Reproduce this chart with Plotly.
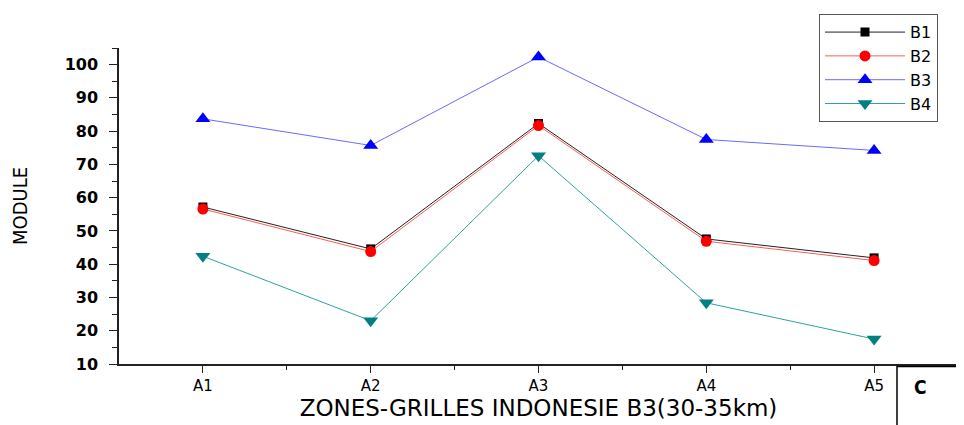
import plotly.graph_objects as go

categories = ["A1", "A2", "A3", "A4", "A5"]
series_names = ["B1", "B2", "B3", "B4"]
b1 = [57.2, 44.6, 82.3, 47.6, 41.9]
b2 = [56.6, 43.8, 81.7, 46.9, 41.1]
b3 = [83.7, 75.7, 102.3, 77.5, 74.2]
b4 = [42.4, 23.0, 72.6, 28.4, 17.5]
y_ticks = [10, 20, 30, 40, 50, 60, 70, 80, 90, 100]

values = [b1, b2, b3, b4]
marker_colors = ["#000000", "#ff0000", "#0000ff", "#008080"]
line_colors = ["#222222", "#ff5a5a", "#6a6aff", "#30a0a0"]
symbols = ["square", "circle", "triangle-up", "triangle-down"]
msizes = [9, 11, 13, 13]

xpos = list(range(1, len(categories) + 1))

fig = go.Figure()
for name, vals, mc, lc, sym, ms in zip(series_names, values, marker_colors, line_colors, symbols, msizes):
    fig.add_trace(go.Scatter(
        x=xpos, y=vals, name=name, mode="lines+markers",
        line=dict(color=lc, width=1),
        marker=dict(symbol=sym, size=ms, color=mc),
    ))

# page body has an 8px margin: figure placed at (8,8) in the window
fig.update_layout(
    width=956, height=417,
    margin=dict(l=111, r=6, t=38, b=61),
    paper_bgcolor="white", plot_bgcolor="white",
    font=dict(family="DejaVu Sans, Arial, sans-serif", color="#000000"),
    showlegend=True,
    legend=dict(
        x=(938 - 119) / 839, y=1.107, xanchor="right", yanchor="top",
        bordercolor="#555555", borderwidth=1, bgcolor="white",
        font=dict(size=16, family="DejaVu Sans, Arial, sans-serif"),
        itemwidth=80, tracegroupgap=0,
    ),
)

fig.update_xaxes(
    range=[0.5, 5.5], tickmode="array", tickvals=xpos, ticktext=categories,
    showgrid=False, zeroline=False, showline=True, linecolor="#222222", linewidth=1.5,
    ticks="outside", ticklen=7, tickwidth=1.2, tickcolor="#222222",
    tickfont=dict(size=15, family="DejaVu Sans, Arial, sans-serif"),
    minor=dict(tickmode="array", tickvals=[1.5, 2.5, 3.5, 4.5], ticks="outside", ticklen=4, tickcolor="#222222", tickwidth=1.2),
    title=dict(text="ZONES-GRILLES INDONESIE B3(30-35km)", font=dict(size=23, family="DejaVu Sans, Arial, sans-serif"), standoff=1),
)
fig.update_yaxes(
    range=[10, 105], tickmode="array", tickvals=y_ticks,
    showgrid=False, zeroline=False, showline=True, linecolor="#222222", linewidth=1.5,
    ticks="outside", ticklen=8, tickwidth=1.2, tickcolor="#222222", ticklabelstandoff=8,
    tickfont=dict(size=16, family="DejaVu Sans, Arial, sans-serif", weight="bold"),
    minor=dict(dtick=5, tick0=5, ticks="outside", ticklen=5, tickcolor="#222222", tickwidth=1.2),
    title=dict(text="MODULE", font=dict(size=20, family="Liberation Sans Narrow, Arial Narrow, DejaVu Sans Condensed, sans-serif"), standoff=32),
)

fig.add_shape(type="rect", xref="paper", yref="paper",
              x0=(897 - 119) / 839, x1=1.02, y0=-0.2, y1=-0.008,
              line=dict(color="#000000", width=1.5), fillcolor="white", layer="above")
fig.add_annotation(xref="paper", yref="paper", x=(929 - 119) / 839, y=-0.115,
                   text="<b>C</b>", showarrow=False,
                   font=dict(size=19, family="DejaVu Sans Condensed, DejaVu Sans, sans-serif", color="#000000"))

fig.write_html("out.html")
